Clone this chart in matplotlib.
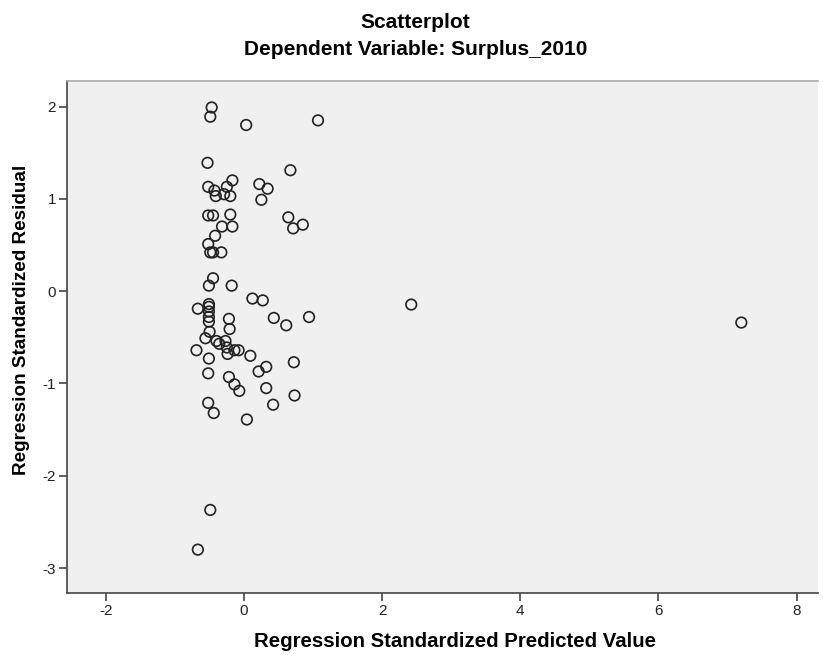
import numpy as np
import matplotlib.pyplot as plt

plt.rcParams['font.family'] = ['Liberation Sans', 'DejaVu Sans']

# values
pred = [-0.47, -0.49, 0.03, 1.07, -0.53, 0.67, -0.52, -0.17, -0.43, -0.25,
        -0.41, -0.29, -0.20, 0.22, 0.34, 0.25, -0.52, -0.45, -0.20, 0.64,
        0.85, 0.71, -0.32, -0.17, -0.42, -0.52, -0.49, -0.45, -0.33,
        -0.45, -0.51, -0.18, 0.12, 0.27, -0.67, -0.51, -0.51, -0.51, -0.51,
        -0.51, -0.22, 0.43, 0.94, 0.61, -0.21, -0.50, -0.56, -0.40, -0.36,
        -0.27, -0.25, -0.24, -0.14, -0.08, 0.09, -0.69, -0.51, 0.72, 0.32,
        0.21, -0.52, -0.22, -0.14, -0.07, 0.32, 0.73, 0.42, -0.52, -0.44,
        0.04, -0.49, -0.67, 2.42, 7.20]
resid = [1.99, 1.89, 1.80, 1.85, 1.39, 1.31, 1.13, 1.20, 1.09, 1.13,
         1.03, 1.05, 1.03, 1.16, 1.11, 0.99, 0.82, 0.82, 0.83, 0.80,
         0.72, 0.68, 0.70, 0.70, 0.60, 0.51, 0.42, 0.42, 0.42,
         0.14, 0.06, 0.06, -0.08, -0.10, -0.19, -0.14, -0.17, -0.22, -0.28,
         -0.33, -0.30, -0.29, -0.28, -0.37, -0.41, -0.44, -0.51, -0.54, -0.57,
         -0.54, -0.61, -0.68, -0.64, -0.64, -0.70, -0.64, -0.73, -0.77, -0.82,
         -0.87, -0.89, -0.93, -1.01, -1.08, -1.05, -1.13, -1.23, -1.21, -1.32,
         -1.39, -2.37, -2.80, -0.145, -0.34]

xticks = [-2, 0, 2, 4, 6, 8]
yticks = [-3, -2, -1, 0, 1, 2]

fig = plt.figure(figsize=(8.23, 6.56), dpi=100)
ax = fig.add_axes([0.0814, 0.096, 0.9125, 0.781])
ax.set_facecolor('#f0f0f0')

ax.scatter(pred, resid, s=58, facecolors='none', edgecolors='#222222',
           linewidths=1.2, zorder=3)

ax.set_xlim(-2.565, 8.31)
ax.set_ylim(-3.27, 2.28)
ax.set_xticks(xticks)
ax.set_yticks(yticks)
ax.set_xticklabels([str(t) for t in xticks], fontsize=11)
ax.set_yticklabels([str(t) for t in yticks], fontsize=11)

for sp in ax.spines.values():
    sp.set_color('#444444')
    sp.set_linewidth(1.2)
ax.spines['top'].set_color('#aaaaaa')
ax.spines['right'].set_visible(False)
ax.tick_params(direction='out', length=6, width=1.2, color='#444444',
               labelcolor='#222222', pad=2)

ax.set_xlabel('Regression Standardized Predicted Value', fontsize=14.7,
              fontweight='bold', va='center')
ax.set_ylabel('Regression Standardized Residual', fontsize=13.6,
              fontweight='bold', va='center')
ax.xaxis.set_label_coords(0.517, -0.094)
ax.yaxis.set_label_coords(-0.060, 0.533)

fig.text(0.505, 0.965, 'Scatterplot', ha='center', va='center',
         fontsize=15, fontweight='bold')
fig.text(0.505, 0.924, 'Dependent Variable: Surplus_2010', ha='center',
         va='center', fontsize=15, fontweight='bold')

fig.savefig('out.png', dpi=100)
